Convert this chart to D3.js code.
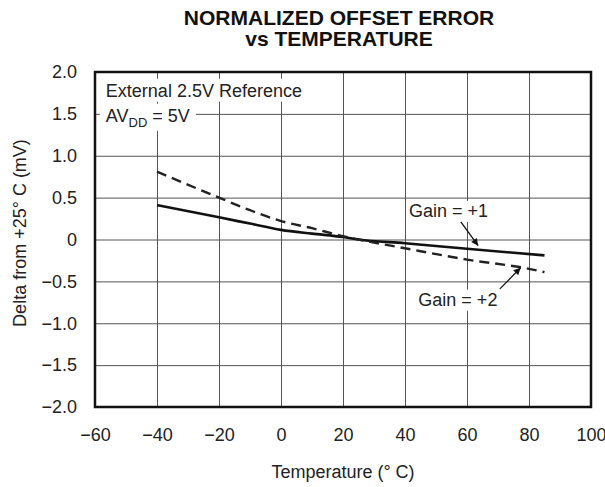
<!DOCTYPE html>
<html>
<head>
<meta charset="utf-8">
<script src="https://cdn.jsdelivr.net/npm/d3@7"></script>
<style>
  body { margin: 0; background: #fff; }
  svg { display: block; font-family: 'Liberation Sans', Arial, sans-serif; }
</style>
</head>
<body>
<svg id="chart" width="605" height="487"></svg>
<script>
// data
const temps = [-40, -20, -10, 0, 10, 20, 25, 40, 60, 85];
const gain1 = [0.41, 0.265, 0.19, 0.115, 0.07, 0.03, 0.0, -0.045, -0.11, -0.19];
const temps2 = [-40, -20, -10, 0, 10, 20, 25, 40, 60, 80, 85];
const gain2 = [0.81, 0.5, 0.35, 0.22, 0.135, 0.04, 0.0, -0.105, -0.24, -0.35, -0.39];

const xTicks = [-60, -40, -20, 0, 20, 40, 60, 80, 100];
const xTickLabels = ['\u221260', '\u221240', '\u221220', '0', '20', '40', '60', '80', '100'];
const yTicks = [2, 1.5, 1, 0.5, 0, -0.5, -1, -1.5, -2];
const yTickLabels = ['2.0', '1.5', '1.0', '0.5', '0', '\u22120.5', '\u22121.0', '\u22121.5', '\u22122.0'];

// annotations: text positions and arrows [x1, y1, x2, y2] in data units
const gainLabels = [
  { text: 'Gain = +1', t: 41.3, v: 0.27 },
  { text: 'Gain = +2', t: 44.3, v: -0.79 }
];
const gainArrows = [
  [58.0, 0.21, 63.6, -0.074],
  [70.6, -0.59, 77.3, -0.337]
];

const margin = { top: 72, right: 14, bottom: 80, left: 95 };
const width = 605 - margin.left - margin.right;
const height = 487 - margin.top - margin.bottom;

const svg = d3.select('#chart');

const defs = svg.append('defs');
defs.append('marker')
  .attr('id', 'arrow')
  .attr('viewBox', '0 0 10 10')
  .attr('refX', 10).attr('refY', 5)
  .attr('markerWidth', 13).attr('markerHeight', 7)
  .attr('markerUnits', 'userSpaceOnUse')
  .attr('orient', 'auto')
  .append('path')
  .attr('d', 'M0,0L10,5L0,10Z')
  .attr('fill', '#111');

// title
const title = svg.append('text')
  .attr('x', margin.left + width / 2 - 4)
  .attr('text-anchor', 'middle')
  .attr('font-weight', 'bold')
  .attr('font-size', 21)
  .attr('fill', '#111');
title.append('tspan').attr('x', margin.left + width / 2 - 4).attr('y', 25).text('NORMALIZED OFFSET ERROR');
title.append('tspan').attr('x', margin.left + width / 2 - 4).attr('y', 46).text('vs TEMPERATURE');

const g = svg.append('g').attr('transform', 'translate(' + margin.left + ',' + margin.top + ')');

const x = d3.scaleLinear().domain([-60, 100]).range([0, width]);
const y = d3.scaleLinear().domain([-2, 2]).range([height, 0]);

// gridlines
g.append('g')
  .attr('transform', 'translate(0,' + height + ')')
  .call(d3.axisBottom(x).tickValues(xTicks).tickSize(-height).tickFormat(''))
  .call(a => a.select('.domain').remove())
  .call(a => a.selectAll('line').attr('stroke', '#555').attr('stroke-width', 1));
g.append('g')
  .call(d3.axisLeft(y).tickValues(yTicks).tickSize(-width).tickFormat(''))
  .call(a => a.select('.domain').remove())
  .call(a => a.selectAll('line').attr('stroke', '#555').attr('stroke-width', 1));

// tick labels
g.append('g')
  .attr('transform', 'translate(0,' + height + ')')
  .call(d3.axisBottom(x).tickValues(xTicks).tickSize(0).tickPadding(21)
    .tickFormat((d, i) => xTickLabels[i]))
  .call(a => a.select('.domain').remove())
  .call(a => a.selectAll('text').attr('font-size', 18).attr('fill', '#222')
    .attr('font-family', 'Liberation Sans, Arial, sans-serif'));
g.append('g')
  .call(d3.axisLeft(y).tickValues(yTicks).tickSize(0).tickPadding(18)
    .tickFormat((d, i) => yTickLabels[i]))
  .call(a => a.select('.domain').remove())
  .call(a => a.selectAll('text').attr('font-size', 18).attr('fill', '#222')
    .attr('font-family', 'Liberation Sans, Arial, sans-serif'));

// white backing behind a text so the grid is broken there
function backing(parent, t, padX, padY) {
  const b = t.node().getBBox();
  parent.insert('rect', 'text')
    .attr('x', b.x - padX).attr('y', b.y - padY)
    .attr('width', b.width + 2 * padX).attr('height', b.height + padY + 1)
    .attr('fill', '#fff');
}

// info text
const info = g.append('g');
const t1 = info.append('text')
  .attr('x', x(-56.5)).attr('y', y(1.705))
  .attr('font-size', 18).attr('fill', '#222')
  .text('External 2.5V Reference');
const t2 = info.append('text')
  .attr('x', x(-56.5)).attr('y', y(1.407))
  .attr('font-size', 18).attr('fill', '#222');
t2.append('tspan').text('AV');
t2.append('tspan').attr('font-size', 13).attr('dy', 5).text('DD');
t2.append('tspan').attr('dy', -5).text(' = 5V');
[t1, t2].forEach(t => backing(info, t, 6, 2));

// curves
const line = d3.line().curve(d3.curveMonotoneX);
g.append('path')
  .datum(temps.map((t, i) => [x(t), y(gain1[i])]))
  .attr('d', line)
  .attr('fill', 'none').attr('stroke', '#111').attr('stroke-width', 2.6);
g.append('path')
  .datum(temps2.map((t, i) => [x(t), y(gain2[i])]))
  .attr('d', line)
  .attr('fill', 'none').attr('stroke', '#222').attr('stroke-width', 2.4)
  .attr('stroke-dasharray', '10,6');

// gain labels and arrows
const labels = g.append('g');
gainLabels.forEach(d => {
  const t = labels.append('text')
    .attr('x', x(d.t)).attr('y', y(d.v))
    .attr('font-size', 18).attr('fill', '#222')
    .text(d.text);
  backing(labels, t, 3, 0);
});
gainArrows.forEach(a => {
  g.append('line')
    .attr('x1', x(a[0])).attr('y1', y(a[1]))
    .attr('x2', x(a[2])).attr('y2', y(a[3]))
    .attr('stroke', '#111').attr('stroke-width', 1.3)
    .attr('marker-end', 'url(#arrow)');
});

// frame
g.append('rect')
  .attr('width', width).attr('height', height)
  .attr('fill', 'none').attr('stroke', '#111').attr('stroke-width', 2.5);

// axis titles
svg.append('text')
  .attr('x', margin.left + width / 2).attr('y', 478)
  .attr('text-anchor', 'middle').attr('font-size', 18).attr('fill', '#222')
  .text('Temperature (\u00b0 C)');
svg.append('text')
  .attr('transform', 'translate(26,233) rotate(-90)')
  .attr('text-anchor', 'middle').attr('font-size', 18).attr('fill', '#222')
  .text('Delta from +25\u00b0 C (mV)');
</script>
</body>
</html>
